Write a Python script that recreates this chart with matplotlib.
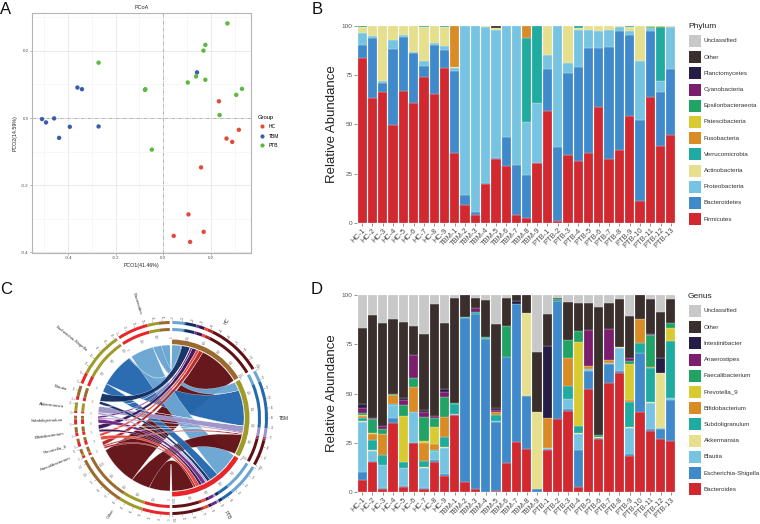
import numpy as np
import matplotlib
matplotlib.use('Agg')
import matplotlib.pyplot as plt
from matplotlib.patches import Rectangle, PathPatch, Wedge
from matplotlib.path import Path
from matplotlib.lines import Line2D

plt.rcParams['font.family'] = ['Liberation Sans', 'DejaVu Sans']

# ---------------- data: PCoA ----------------
pcoa_hc_x = [0.234, 0.318, 0.266, 0.290, 0.159, 0.106, 0.044, 0.113, 0.170]
pcoa_hc_y = [0.050, -0.035, -0.061, -0.071, -0.147, -0.287, -0.351, -0.369, -0.339]
pcoa_tbm_x = [-0.510, -0.493, -0.459, -0.438, -0.393, -0.361, -0.342, -0.272, 0.142]
pcoa_tbm_y = [-0.003, -0.013, -0.001, -0.059, -0.026, 0.091, 0.086, -0.025, 0.136]
pcoa_ptb_x = [-0.272, -0.077, -0.075, -0.048, 0.103, 0.138, 0.169, 0.177, 0.177, 0.270, 0.237, 0.307, 0.331]
pcoa_ptb_y = [0.165, 0.084, 0.086, -0.094, 0.106, 0.124, 0.201, 0.218, 0.114, 0.282, 0.009, 0.069, 0.087]

# ---------------- data: samples ----------------
samples = ['HC-1', 'HC-2', 'HC-3', 'HC-4', 'HC-5', 'HC-6', 'HC-7', 'HC-8', 'HC-9',
           'TBM-1', 'TBM-2', 'TBM-3', 'TBM-4', 'TBM-5', 'TBM-6', 'TBM-7', 'TBM-8', 'TBM-9',
           'PTB-1', 'PTB-2', 'PTB-3', 'PTB-4', 'PTB-5', 'PTB-6', 'PTB-7', 'PTB-8', 'PTB-9',
           'PTB-10', 'PTB-11', 'PTB-12', 'PTB-13']
sample_group = ['HC'] * 9 + ['TBM'] * 9 + ['PTB'] * 13

# ---------------- data: phylum (%) ----------------
firmicutes = [83.5, 63.3, 66.2, 49.8, 66.7, 60.8, 74.0, 65.2, 78.5,
              35.6, 9.0, 3.9, 19.9, 32.4, 28.9, 3.9, 2.2, 30.1,
              56.8, 0.8, 34.3, 31.6, 35.3, 59.0, 32.4, 37.0, 54.2, 11.0, 63.7, 39.0, 44.4]
bacteroidetes = [7.0, 30.5, 4.9, 38.7, 27.7, 25.3, 5.7, 25.0, 9.5,
                 41.4, 5.2, 1.7, 0.4, 0.4, 14.7, 25.3, 22.0, 0.3,
                 21.1, 37.5, 41.9, 47.8, 53.6, 29.7, 57.1, 60.3, 41.4, 41.0, 33.9, 27.4, 33.5]
proteobacteria = [6.0, 1.3, 0.7, 4.6, 1.2, 0.9, 2.6, 1.0, 1.7,
                  1.4, 85.8, 94.4, 79.4, 65.2, 56.4, 70.8, 27.0, 30.7,
                  7.1, 61.7, 5.1, 18.7, 9.2, 8.9, 8.6, 2.4, 1.7, 30.4, 1.4, 5.4, 21.4]
actinobacteria = [2.8, 4.9, 28.2, 6.9, 4.4, 13.0, 17.0, 8.8, 9.8,
                  1.0, 0, 0, 0.3, 1.0, 0, 0, 0, 0,
                  15.0, 0, 18.7, 0.7, 1.9, 2.4, 1.9, 0.3, 2.2, 17.6, 0, 0, 0.7]
verrucomicrobia = [0.4, 0, 0, 0, 0, 0, 0.7, 0, 0.5,
                   0, 0, 0, 0, 0, 0, 0, 42.7, 38.9,
                   0, 0, 0, 1.2, 0, 0, 0, 0, 0.5, 0, 0.5, 27.7, 0]
fusobacteria = [0, 0, 0, 0, 0, 0, 0, 0, 0,
                20.6, 0, 0, 0, 0, 0, 0, 6.1, 0,
                0, 0, 0, 0, 0, 0, 0, 0, 0, 0, 0, 0, 0]
patescibacteria = [0, 0, 0, 0, 0, 0, 0, 0, 0,
                   0, 0, 0, 0, 0, 0, 0, 0, 0,
                   0, 0, 0, 0, 0, 0, 0, 0, 0, 0, 0.5, 0.5, 0]
epsilonbacteraeota = [0.3, 0, 0, 0, 0, 0, 0, 0, 0,
                      0, 0, 0, 0, 0, 0, 0, 0, 0,
                      0, 0, 0, 0, 0, 0, 0, 0, 0, 0, 0, 0, 0]
cyanobacteria = [0] * 31
planctomycetes = [0] * 31
other_phylum = [0, 0, 0, 0, 0, 0, 0, 0, 0,
                0, 0, 0, 0, 1.0, 0, 0, 0, 0,
                0, 0, 0, 0, 0, 0, 0, 0, 0, 0, 0, 0, 0]
unclassified_phylum = [0] * 31

phylum_names = ['Firmicutes', 'Bacteroidetes', 'Proteobacteria', 'Actinobacteria',
                'Verrucomicrobia', 'Fusobacteria', 'Patescibacteria', 'Epsilonbacteraeota',
                'Cyanobacteria', 'Planctomycetes', 'Other', 'Unclassified']
phylum_series = [firmicutes, bacteroidetes, proteobacteria, actinobacteria, verrucomicrobia,
                 fusobacteria, patescibacteria, epsilonbacteraeota, cyanobacteria,
                 planctomycetes, other_phylum, unclassified_phylum]

# ---------------- data: genus (%) ----------------
bacteroides = [6.1, 15.5, 1.5, 35.0, 2.7, 25.0, 1.4, 15.5, 8.1,
               38.9, 4.9, 1.7, 0.2, 0.3, 14.7, 25.2, 21.8, 0.0,
               21.5, 37.0, 41.2, 2.5, 52.4, 27.0, 55.4, 60.3, 18.1, 40.7, 31.1, 27.0, 25.7]
escherichia = [4.0, 0.4, 0.4, 2.5, 0.3, 0.0, 0.6, 0.7, 1.2,
               0.3, 83.6, 88.7, 77.7, 35.5, 54.1, 70.6, 27.2, 1.7,
               0.6, 60.0, 1.0, 18.6, 9.1, 0.7, 9.5, 1.2, 1.3, 30.2, 0.7, 5.1, 21.1]
blautia = [25.7, 5.0, 12.0, 6.8, 9.2, 15.5, 10.2, 4.4, 13.0,
           0.3, 0, 0, 0, 0.3, 0, 0, 0, 0,
           0.5, 0, 5.1, 8.3, 0.8, 0, 0.6, 11.5, 13.0, 0, 13.3, 0.3, 0.8]
akkermansia = [0.5, 0.4, 0, 0, 0, 0, 0.6, 0, 0.7,
               0, 0, 0, 0, 0, 0, 0, 42.2, 39.2,
               0, 0, 0, 0.7, 0, 0.5, 0, 0.5, 0.7, 0, 0.5, 27.9, 0]
subdoligranulum = [1.5, 5.2, 4.7, 0.6, 3.3, 0, 3.2, 1.0, 5.2,
                   5.1, 0.4, 1.2, 0.6, 3.1, 0, 0, 0, 0,
                   0, 0, 6.4, 3.7, 0, 0, 0, 0, 12.5, 4.6, 17.2, 0, 29.1]
bifidobacterium = [0.9, 3.2, 10.8, 4.4, 0, 12.9, 8.8, 2.9, 10.1,
                   0, 0, 0, 0, 1.7, 0, 0, 0, 0,
                   15.2, 0, 14.5, 0, 1.9, 0, 1.7, 0, 1.2, 12.3, 0.7, 0, 0]
prevotella_9 = [0.3, 0.2, 0.3, 0, 23.0, 0, 0.9, 8.3, 0,
                0, 0, 0, 0, 0, 0, 0, 0, 0,
                0, 0, 0, 42.6, 0, 0, 0, 0, 18.4, 0, 0, 0.3, 6.7]
faecalibacterium = [1.0, 7.3, 2.4, 0.7, 5.8, 4.4, 12.6, 5.0, 10.2,
                    0.7, 0.3, 0, 0.5, 0, 15.7, 0, 0, 0,
                    0, 1.3, 9.0, 5.4, 0, 0.9, 0, 0, 1.4, 0, 16.2, 0, 2.4]
anaerostipes = [2.6, 0.3, 1.7, 0, 2.3, 11.8, 2.6, 0.9, 2.3,
                0, 0, 2.0, 0, 0.7, 0, 0, 0, 0,
                0, 0, 0, 0, 17.9, 0, 15.6, 0, 1.6, 0, 0.5, 0, 0]
intestinibacter = [2.0, 0, 0, 0, 1.4, 0, 0.6, 0, 1.6,
                   0, 0, 0, 0, 1.0, 0, 1.3, 0, 0,
                   36.2, 0, 0, 0, 0, 0, 0, 0, 0, 0, 0, 7.6, 0]
other_genus = [38.8, 52.7, 52.2, 37.7, 38.5, 14.9, 38.7, 56.9, 33.4,
               53.5, 10.8, 5.2, 18.5, 43.0, 14.3, 2.9, 8.8, 30.4,
               16.7, 0.5, 19.4, 14.3, 14.0, 65.0, 13.3, 24.8, 21.2, 12.2, 18.1, 23.4, 12.5]
unclassified_genus = [16.6, 9.8, 14.0, 12.3, 13.5, 15.5, 19.8, 4.4, 14.2,
                      1.2, 0, 1.2, 2.5, 14.4, 1.2, 0, 0, 28.7,
                      9.3, 1.2, 3.4, 3.9, 3.9, 5.9, 3.9, 1.7, 10.6, 0, 1.7, 8.4, 1.7]

genus_names = ['Bacteroides', 'Escherichia-Shigella', 'Blautia', 'Akkermansia', 'Subdoligranulum',
               'Bifidobacterium', 'Prevotella_9', 'Faecalibacterium', 'Anaerostipes',
               'Intestinibacter', 'Other', 'Unclassified']
genus_series = [bacteroides, escherichia, blautia, akkermansia, subdoligranulum, bifidobacterium,
                prevotella_9, faecalibacterium, anaerostipes, intestinibacter, other_genus,
                unclassified_genus]

# ---------------- chord data ----------------
chord_genera = ['Bacteroides', 'Escherichia-Shigella', 'Blautia', 'Akkermansia', 'Subdoligranulum',
                'Bifidobacterium', 'Prevotella_9', 'Faecalibacterium', 'Other']
chord_groups = ['HC', 'TBM', 'PTB']

# ---------------- styles ----------------
stack_colors = ['#D1292F', '#408ACB', '#76C4E2', '#E6DF8E', '#20ABA0', '#D98B26',
                '#D8CB31', '#22A366', '#7B1E6E', '#251D45', '#3A2F2C', '#C8C8C8']
group_colors = {'HC': '#E24A3B', 'TBM': '#3A5DAE', 'PTB': '#5CB83E'}
chord_genus_colors = ['#6BA5D3', '#2468AE', '#122F62', '#9C93C9', '#6E2A8A',
                      '#3B1456', '#E8453A', '#B3262A', '#611015']
chord_group_colors = ['#9A6A2E', '#9E9B2B', '#E8262A']

W, H = 760, 524
fig = plt.figure(figsize=(W / 100, H / 100), dpi=100)


def fax(l, t, r, b):
    return fig.add_axes([l / W, 1 - b / H, (r - l) / W, (b - t) / H])


# ================= Panel A =================
axA = fax(32, 13, 251, 253)
axA.set_xlim(-0.552, 0.369)
axA.set_ylim(-0.402, 0.313)
axA.set_xticks([-0.4, -0.2, 0.0, 0.2])
axA.set_xticklabels(['-0.4', '-0.2', '0.0', '0.2'])
axA.set_yticks([-0.4, -0.2, 0.0, 0.2])
axA.set_yticklabels(['-0.4', '-0.2', '0.0', '0.2'])
axA.set_xticks([-0.5, -0.3, -0.1, 0.1, 0.3], minor=True)
axA.set_yticks([-0.3, -0.1, 0.1, 0.3], minor=True)
axA.grid(which='major', color='#E6E6E6', lw=0.6)
axA.grid(which='minor', color='#F2F2F2', lw=0.4)
axA.set_axisbelow(True)
axA.axhline(0, color='#A0A0A0', lw=0.5, ls=(0, (5, 2, 1, 2)))
axA.axvline(0, color='#A0A0A0', lw=0.5, ls=(0, (5, 2, 1, 2)))
for name, xs, ys in [('HC', pcoa_hc_x, pcoa_hc_y), ('TBM', pcoa_tbm_x, pcoa_tbm_y),
                     ('PTB', pcoa_ptb_x, pcoa_ptb_y)]:
    axA.scatter(xs, ys, s=10, color=group_colors[name], edgecolor='none', zorder=3, label=name)
for sp in axA.spines.values():
    sp.set_color('#B5B5B5')
    sp.set_linewidth(0.8)
axA.tick_params(which='both', length=1.5, width=0.4, color='#777777', labelsize=3.2,
                labelcolor='#4D4D4D', pad=1)
axA.tick_params(which='minor', length=0)
axA.set_xlabel('PCO1(41.46%)', fontsize=3.8, labelpad=2, color='#222222')
axA.set_ylabel('PCO2(14.59%)', fontsize=3.8, labelpad=2, color='#222222')
axA.set_title('PCoA', fontsize=4, pad=3, color='#222222')
handles = [Line2D([], [], marker='o', ls='none', markersize=3, markerfacecolor=group_colors[g],
                  markeredgecolor='none', label=g) for g in ['HC', 'TBM', 'PTB']]
legA = axA.legend(handles=handles, title='Group', loc='upper left', bbox_to_anchor=(1.02, 0.585),
                  frameon=False, fontsize=3.6, title_fontsize=4.2, handletextpad=0.3,
                  labelspacing=0.9, borderaxespad=0)
legA._legend_box.align = 'left'


# ================= stacked bars =================
def stacked(ax, series, colors):
    x = np.arange(1, len(samples) + 1)
    bottom = np.zeros(len(samples))
    for vals, col in zip(series, colors):
        v = np.array(vals, dtype=float)
        m = v > 0
        ax.bar(x[m], v[m], bottom=bottom[m], width=0.9, color=col, edgecolor='white',
               linewidth=0.15)
        bottom += v
    ax.set_xlim(0.5, len(samples) + 0.5)
    ax.set_ylim(0, 100.5)
    ax.set_xticks(x)
    ax.set_xticklabels(samples, rotation=45, ha='right', rotation_mode='anchor',
                       fontsize=5.4, color='#4D4D4D')
    ax.set_yticks([0, 25, 50, 75, 100])
    ax.set_yticklabels(['0', '25', '50', '75', '100'], fontsize=4.6, color='#555555')
    ax.tick_params(axis='both', length=2, width=0.5, color='#666666', pad=1)
    for sp in ax.spines.values():
        sp.set_visible(False)
    ax.set_ylabel('Relative Abundance', fontsize=9.5, color='#222222', labelpad=3)


def stack_legend(top, names, colors, title):
    # legend drawn in a helper axes measured in figure pixels
    lg = fax(680, top, 760, top + 215)
    lg.set_xlim(680, 760)
    lg.set_ylim(top + 215, top)
    lg.axis('off')
    lg.text(688, top + 7, title, fontsize=6.0, ha='left', va='center', color='#222222')
    for k, (n, c) in enumerate(list(zip(names, colors))[::-1]):
        yc = top + 22 + k * 16.2
        lg.add_patch(Rectangle((689, yc - 6), 12, 12, facecolor=c, edgecolor='none'))
        lg.text(703.5, yc, n, fontsize=4.5, ha='left', va='center', color='#333333')


axB = fax(357, 25, 676, 222.7)
stacked(axB, phylum_series, stack_colors)
stack_legend(19, phylum_names, stack_colors, 'Phylum')

axD = fax(357, 294.3, 676, 492)
stacked(axD, genus_series, stack_colors)
stack_legend(289, genus_names, stack_colors, 'Genus')

# ================= Panel C: chord diagram =================
genus_rows = [bacteroides, escherichia, blautia, akkermansia, subdoligranulum,
              bifidobacterium, prevotella_9, faecalibacterium]
grp = np.array(sample_group)
mat = np.array([[np.mean(np.array(row)[grp == g]) for g in chord_groups] for row in genus_rows])
mat = np.vstack([mat, 100 - mat.sum(axis=0)])   # Other = remainder

axC = fax(0, 280, 300, 524)
axC.set_xlim(-171, 129)
axC.set_ylim(-106, 138)
axC.axis('off')

R = 73.0
gap = 1.6
total = mat.sum()
sc_r = (180 - 3 * gap) / total
sc_l = (180 - 9 * gap) / total

grp_start = {}
a = gap / 2
for j in range(3):
    grp_start[j] = a
    a += mat[:, j].sum() * sc_r + gap
gen_order = list(range(len(chord_genera)))[::-1]
gen_start = {}
a = 180 + gap / 2
for i in gen_order:
    gen_start[i] = a
    a += mat[i, :].sum() * sc_l + gap


def pol(t, r):
    t = np.radians(t)
    return r * np.sin(t), r * np.cos(t)


def arc_wedge(t0, t1, r_in, r_out, color, z=2):
    axC.add_patch(Wedge((0, 0), r_out, 90 - t1, 90 - t0, width=r_out - r_in,
                        facecolor=color, edgecolor='none', zorder=z))


def radial_text(theta, r, s, size, color='#333333'):
    x, y = pol(theta, r)
    phi = (90 - theta + 180) % 360 - 180
    if -90 <= phi <= 90:
        rot, ha = phi, 'left'
    else:
        rot, ha = (phi - 180 if phi > 0 else phi + 180), 'right'
    axC.text(x, y, s, rotation=rot, ha=ha, va='center', rotation_mode='anchor',
             fontsize=size, color=color)


links = []
gpos = {j: grp_start[j] for j in range(3)}
for i in range(len(chord_genera)):
    for j in range(3):
        w = mat[i, j] * sc_r
        links.append([i, j, gpos[j], gpos[j] + w])
        gpos[j] += w
npos = {i: gen_start[i] for i in range(len(chord_genera))}
link_gen = {}
for i in range(len(chord_genera)):
    for j in [2, 1, 0]:
        w = mat[i, j] * sc_l
        link_gen[(i, j)] = (npos[i], npos[i] + w)
        npos[i] += w


def ctrl(p, q, k=0.22):
    return (k * (p[0] + q[0]) / 2, k * (p[1] + q[1]) / 2)


def ribbon(a0, a1, b0, b1, color):
    n = 40
    ta = np.linspace(a0, a1, n)
    tb = np.linspace(b0, b1, n)
    xa, ya = pol(ta, R)
    xb, yb = pol(tb, R)
    verts = list(zip(xa, ya))
    codes = [Path.MOVETO] + [Path.LINETO] * (n - 1)
    verts += [ctrl((xa[-1], ya[-1]), (xb[0], yb[0])), (xb[0], yb[0])]
    codes += [Path.CURVE3, Path.CURVE3]
    verts += list(zip(xb[1:], yb[1:]))
    codes += [Path.LINETO] * (n - 1)
    verts += [ctrl((xb[-1], yb[-1]), (xa[0], ya[0])), (xa[0], ya[0])]
    codes += [Path.CURVE3, Path.CURVE3]
    verts.append((xa[0], ya[0]))
    codes.append(Path.CLOSEPOLY)
    axC.add_patch(PathPatch(Path(verts, codes), facecolor=color, edgecolor='white',
                            lw=0.2, alpha=0.97, zorder=1))


order = sorted(links, key=lambda L: -mat[L[0], L[1]])
for i, j, b0, b1 in order:
    a0, a1 = link_gen[(i, j)]
    ribbon(a0, a1, b0, b1, chord_genus_colors[i])

# group grid track
for j in range(3):
    t0 = grp_start[j]
    t1 = t0 + mat[:, j].sum() * sc_r
    arc_wedge(t0, t1, R + 0.8, R + 5.5, chord_group_colors[j])

# outer composition rings
for r_in, r_out in [(87.0, 90.0), (94.0, 97.0)]:
    for i, j, b0, b1 in links:
        arc_wedge(b0, b1, r_in, r_out, chord_genus_colors[i])
    for (i, j), (a0, a1) in link_gen.items():
        arc_wedge(a0, a1, r_in, r_out, chord_group_colors[j])


def sector_ticks(t0, size_units, scale):
    k = 0
    while k * 10 <= size_units + 1e-9:
        t = t0 + k * 10 * scale
        x0, y0 = pol(t, 97.5)
        x1, y1 = pol(t, 99.0)
        axC.plot([x0, x1], [y0, y1], color='#777777', lw=0.3)
        radial_text(t, 100.0, str(k * 10), 1.8, '#666666')
        if k % 2 == 0:
            radial_text(t, 80.0, '%d' % (k * 100), 1.8, '#666666')
        k += 1


for j in range(3):
    sector_ticks(grp_start[j], mat[:, j].sum(), sc_r)
for i in range(len(chord_genera)):
    sector_ticks(gen_start[i], mat[i, :].sum(), sc_l)

for j in range(3):
    mid = grp_start[j] + mat[:, j].sum() * sc_r / 2
    radial_text(mid, 108, chord_groups[j], 3.4)
for i in range(len(chord_genera)):
    mid = gen_start[i] + mat[i, :].sum() * sc_l / 2
    radial_text(mid, 108, chord_genera[i], 3.2)

# ================= panel letters =================
for s, x, y in [('A', 6, 9), ('B', 317, 9), ('C', 6, 289), ('D', 317, 289)]:
    fig.text(x / W, 1 - y / H, s, fontsize=12, ha='center', va='center', color='#111111')

fig.savefig('out.png', dpi=100)
